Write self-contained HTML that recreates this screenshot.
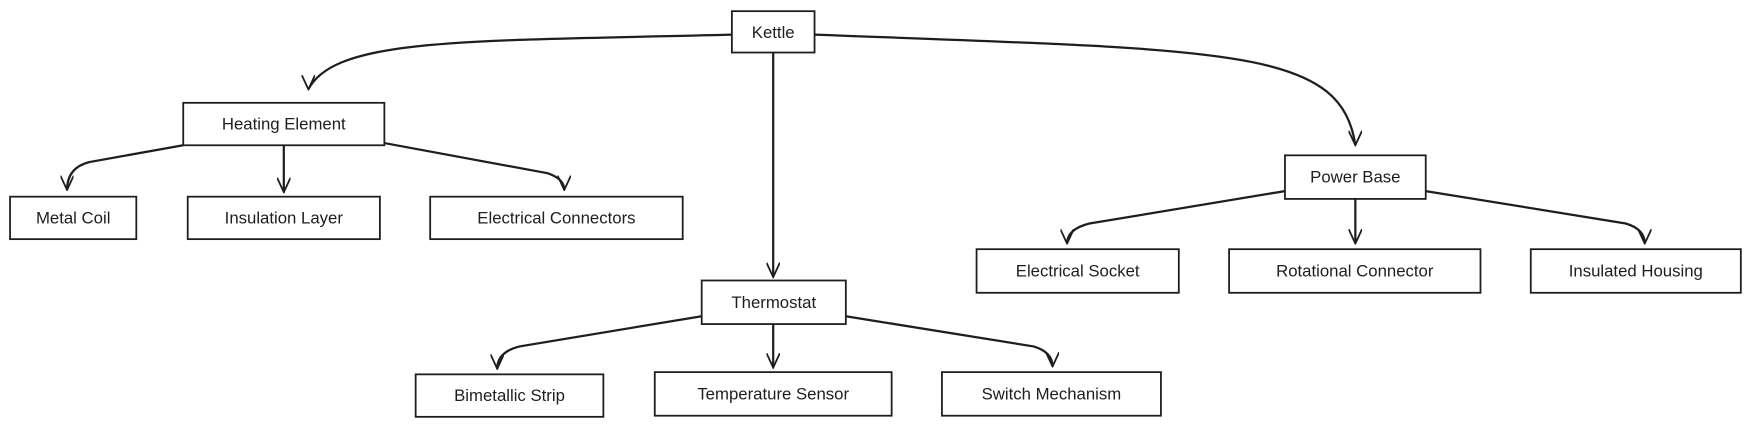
<!DOCTYPE html>
<html><head><meta charset="utf-8"><style>
html,body{margin:0;padding:0;background:#fff;}
svg{display:block}
text{font-family:"Liberation Sans",sans-serif;font-size:15px;fill:#1e1e1e;text-anchor:middle;dominant-baseline:central}
.b{fill:#fff;stroke:#1e1e1e;stroke-width:1.6}
.e{fill:none;stroke:#1e1e1e;stroke-width:2}
</style></head><body>
<svg width="1752" height="428" viewBox="0 0 1568 383" preserveAspectRatio="none" xmlns="http://www.w3.org/2000/svg">
<defs><marker id="a" markerWidth="12" markerHeight="14" refX="6" refY="13" orient="0" markerUnits="userSpaceOnUse"><path d="M0,0 L6,13 L12,0" fill="none" stroke="#1e1e1e" stroke-width="1.6"/></marker></defs>
<path class="e" marker-end="url(#a)" d="M655,31 C420,37 300,33 276,80"/>
<path class="e" marker-end="url(#a)" d="M692,47 L692,248"/>
<path class="e" marker-end="url(#a)" d="M729,31 C1100,45 1200,42 1213,130"/>
<path class="e" marker-end="url(#a)" d="M164,130 L80,145 Q60,150 60,170"/>
<path class="e" marker-end="url(#a)" d="M254,130 L254,172"/>
<path class="e" marker-end="url(#a)" d="M344,128 L490,155 Q505,160 505,170"/>
<path class="e" marker-end="url(#a)" d="M628,283 L465,310 Q445,315 445,330"/>
<path class="e" marker-end="url(#a)" d="M692,290 L692,329"/>
<path class="e" marker-end="url(#a)" d="M757,283 L925,310 Q942,315 942,328"/>
<path class="e" marker-end="url(#a)" d="M1150,171 L975,200 Q955,205 955,218"/>
<path class="e" marker-end="url(#a)" d="M1213,178 L1213,218"/>
<path class="e" marker-end="url(#a)" d="M1276,171 L1455,200 Q1472,205 1472,218"/>
<rect class="b" x="655" y="10" width="74" height="37"/><text x="692" y="29">Kettle</text>
<rect class="b" x="164" y="92" width="180" height="38"/><text x="254" y="111">Heating Element</text>
<rect class="b" x="9" y="176" width="113" height="38"/><text x="65.5" y="195">Metal Coil</text>
<rect class="b" x="168" y="176" width="172" height="38"/><text x="254" y="195">Insulation Layer</text>
<rect class="b" x="385" y="176" width="226" height="38"/><text x="498" y="195">Electrical Connectors</text>
<rect class="b" x="628" y="251" width="129" height="39"/><text x="692.5" y="270.5">Thermostat</text>
<rect class="b" x="372" y="335" width="168" height="38"/><text x="456" y="354">Bimetallic Strip</text>
<rect class="b" x="586" y="333" width="212" height="39"/><text x="692" y="352.5">Temperature Sensor</text>
<rect class="b" x="843" y="333" width="196" height="39"/><text x="941" y="352.5">Switch Mechanism</text>
<rect class="b" x="1150" y="139" width="126" height="39"/><text x="1213" y="158.5">Power Base</text>
<rect class="b" x="874" y="223" width="181" height="39"/><text x="964.5" y="242.5">Electrical Socket</text>
<rect class="b" x="1100" y="223" width="225" height="39"/><text x="1212.5" y="242.5">Rotational Connector</text>
<rect class="b" x="1370" y="223" width="188" height="39"/><text x="1464" y="242.5">Insulated Housing</text>
</svg>
</body></html>
